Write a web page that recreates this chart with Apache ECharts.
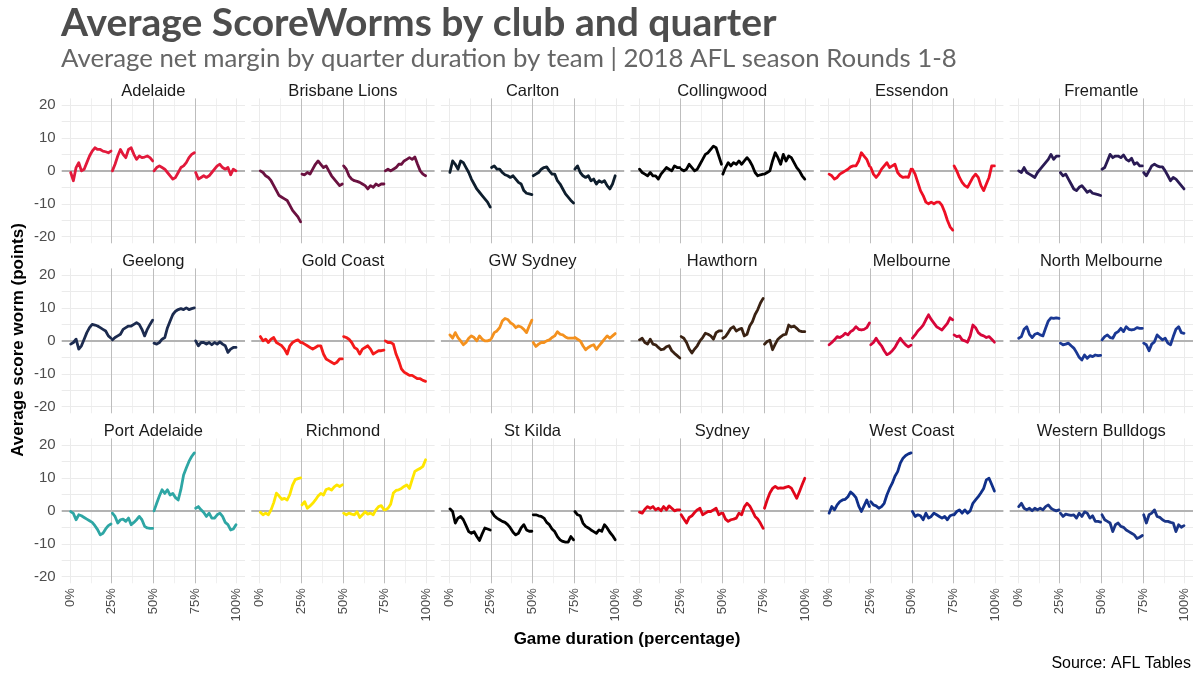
<!DOCTYPE html>
<html><head><meta charset="utf-8">
<script src="https://cdn.jsdelivr.net/npm/echarts@6/dist/echarts.min.js"></script>
<style>html,body{margin:0;padding:0;background:#fff}#c{width:1200px;height:680px}</style>
</head><body><div id="c"></div>
<script>
const teams = ['Adelaide','Brisbane Lions','Carlton','Collingwood','Essendon','Fremantle',
  'Geelong','Gold Coast','GW Sydney','Hawthorn','Melbourne','North Melbourne',
  'Port Adelaide','Richmond','St Kilda','Sydney','West Coast','Western Bulldogs'];
const teamColors = ['#E2193B','#6B1140','#0E1E2D','#000000','#EE0F25','#2A1A54',
  '#1C2B4F','#F41A1A','#F4911E','#3A2213','#D7063A','#1A3894',
  '#2EA6A4','#FFE600','#000000','#E1061A','#10308A','#1A3587'];
const xTickLabels = [0,25,50,75,100];
const yTickLabels = [-20,-10,0,10,20];

// Average net margin per quarter (16 samples spread over each quarter)
const adelaide = [
  [-0.5,-3,1,2.5,0,0.5,2.5,4.5,6,7,6.5,6.5,6,5.8,5.5,6],
  [0,2,4.5,6.5,5,4,6.5,7,5,3.5,4.5,4,4.2,4.5,4,3],
  [0,1,1.5,1,0.5,-0.5,-1.5,-2.5,-2,-0.5,1,1.5,2.5,4,5,5.5],
  [-0.5,-2.5,-2,-1.5,-2,-1.5,-0.5,0.5,1.5,2,1,0.5,1,-1.2,0.5,0]];
const brisbane = [
  [0,-0.5,-1.5,-2,-3,-4.5,-6,-7.5,-8,-8.5,-9,-10.5,-12,-13,-14,-15.5],
  [-1,-1.2,-0.5,-1,0.5,2,3,2,1,1.5,0,-1.5,-2.5,-3.5,-4.5,-4],
  [1.5,0.5,-1.5,-2.5,-3,-3.2,-3.5,-4,-4.5,-5.5,-4.5,-5,-4,-4.5,-4,-4],
  [0,0.5,0,0.5,1,2,2,3,3.5,4,3.5,4.2,2,0,-1,-1.5]];
const carlton = [
  [-0.5,3,2,0.5,3,2.5,1,-0.5,-2.5,-4,-5.5,-6.5,-7.5,-8.5,-9.5,-11],
  [1,1.5,0.5,0.5,-0.5,-1.2,-1.5,-2,-1.5,-2.5,-3.5,-4,-6,-6.8,-7,-7.2],
  [-1.5,-1,-0.5,0.5,1,1.2,0,-1,-1,-3,-4,-5.5,-7,-8,-9,-9.8],
  [0.5,1.5,-0.5,-1.5,-2,-1.5,-3,-2.5,-4,-3,-3.5,-3,-4.5,-5.5,-4,-1.5]];
const collingwood = [
  [0.5,-0.5,-1,-1.5,-0.5,-1.5,-1.5,-2.5,-1,0,1,0.5,0,1.5,1,1],
  [0.5,0,0.5,2,1,0,0.5,2,3.5,5,5.5,6.5,7.5,7,4.5,2],
  [-1,1,2.5,1.5,2.5,2,3,2,3,4,3,1.5,-0.5,-1.5,-1.2,-1],
  [-1,-0.5,0,3,5.5,4,2,5,3,4.5,4,2.5,1,0,-1.5,-2.5]];
const essendon = [
  [-1,-1.5,-2.5,-2,-1,-0.5,0,0.5,1.2,1.5,1.5,3,5.5,4.5,3.5,1.5],
  [1,-1,-2,-1,0.5,1.5,2.5,1,1.5,2,-0.5,-1.5,-2,-1.8,-2,0.5],
  [0.5,-1,-3.5,-6,-7.5,-9.5,-10,-9.5,-10,-9.5,-9.5,-10.5,-12.5,-15,-17,-18],
  [1.5,0,-2,-3.5,-4.5,-5,-3.5,-2,-1,-2,-4.5,-6,-4,-2,1.5,1.5]];
const fremantle = [
  [0,-0.5,1,-0.5,-1,-1.5,-2,-0.5,0.5,1.5,2.5,3.5,5,3.5,4.5,4.5],
  [-0.5,-1.5,-1,-2.5,-4,-5.5,-6,-5,-4.5,-5.5,-6.5,-6,-6.8,-7,-7.2,-7.5],
  [0.5,1,3,5,4,4.5,4.5,4,4.8,3.5,3,3.8,2,2.5,1.5,1.5],
  [-0.5,-1.5,0,1.5,2,1.5,1.2,1.2,0,-1.5,-3,-2,-2.5,-3.5,-4.5,-5.5]];
const geelong = [
  [-1,-0.5,0.5,-2.5,-1.5,0.5,2.5,4,5,4.8,4.5,4,3.5,3,1.5,0.8],
  [0.3,1,1.5,2,3.5,4,4.5,4.5,5,5.5,5,3.5,1.5,3.5,5,6.3],
  [-0.7,-1,-0.5,0.5,1,4,6,8,9,9.5,9.8,9.5,10,9.5,9.8,10],
  [0,-1.5,-0.5,-0.5,-1,-0.5,-1.2,-0.5,-1,-0.3,-1,-1.5,-3.5,-2.5,-2,-2]];
const goldCoast = [
  [1.3,0,0.5,-0.5,0.5,1,-0.5,-1,-1.5,-2.5,-4,-1.5,-0.5,0,0.3,-0.5],
  [-0.5,-1,-1.5,-2,-2.5,-2,-1.5,-1.5,-4,-5.5,-6,-6.5,-7,-6.5,-5.5,-5.5],
  [1.3,1,0.5,-0.5,-2,-2.5,-4,-2.5,-2,-1.5,-2.5,-4,-3.5,-3,-3,-2.8],
  [0,-0.5,-0.5,-1,-4,-6,-8.5,-9.5,-10,-10.5,-10.5,-11,-11.5,-11.5,-12,-12.3]];
const gwSydney = [
  [1.8,0.8,2.5,1,0,-1.2,-0.5,0.8,1.5,1,0,1.5,0.5,0,0,0.3],
  [0.8,2.5,3,4,6,6.8,6.5,5.5,5,4,4.5,4.2,3.5,2.5,4.5,6.3],
  [-0.5,-1.7,-1,-0.5,-0.5,0,0.3,1,1.5,2.8,2,1.8,1.2,0.8,0.8,0.8],
  [1,0.5,0,-1.5,-2.7,-2,-1.5,-1.2,-2.6,-1.5,-0.5,0.5,1.5,0.8,1.5,2.2]];
const hawthorn = [
  [0.3,0.8,-0.5,-1,0.5,-1,-1.2,-2,-2.7,-2.5,-1.8,-1.5,-3,-3.8,-4.5,-5.2],
  [1.3,0.8,-0.5,-2.5,-3.7,-2.5,-1.5,0,1,2.3,2,1.5,0.5,2.5,3,3],
  [0.8,1.3,2.5,3.8,4.3,3,3.5,3.8,1.5,2,4.5,5.8,8,9.5,11.5,12.9],
  [-1,-0.2,0.2,-2.7,-1,0.5,1.2,1.8,2,4.8,4.2,4.5,3.8,3,2.8,2.8]];
const melbourne = [
  [-1.2,-0.5,0.3,1.3,1,1.5,2.3,1.8,2.8,3.3,4.3,3.5,3.3,3.5,4,5.4],
  [-1.2,-0.5,0.8,-0.5,-1.5,-3,-4.2,-3.8,-3,-2,-0.5,0.8,-0.3,-1.2,-1.8,-1.3],
  [0.8,1.8,3,3.8,4.8,6.4,7.9,6.5,5.4,4.3,3.8,3.3,4.3,5.3,7,6.4],
  [1.8,1.3,1.5,0.3,0,-0.4,1.5,4.8,4,2.5,1.8,1.5,1,1.3,0.5,-0.4]];
const northMelbourne = [
  [0.8,1.3,3.5,4.3,2,1,2,2.3,1.8,1.5,3.8,6,7,6.8,7,6.8],
  [-0.7,-1.2,-1,-0.7,-1.5,-2.2,-3.5,-5,-5.8,-4.3,-5.3,-4.5,-4.8,-4.3,-4.5,-4.4],
  [0.3,1.3,1.8,1,0.8,2.3,2.8,3.8,2.8,4.3,3.5,3.3,3.5,4,3.8,3.8],
  [-0.7,-1.2,-3,-1,-0.3,1.8,1,0.3,0.8,-0.7,-1.2,1.3,3.5,4.3,2.5,2.3]];
const portAdelaide = [
  [-0.2,-0.8,-2.7,-1.2,-1.5,-2,-2.5,-3,-3.5,-4.5,-5.7,-7.3,-6.8,-5.5,-4.5,-4],
  [-0.7,-1.7,-3.7,-2.7,-2.5,-3.2,-2.2,-4.2,-3.5,-2.7,-1.7,-2.7,-4.7,-5.2,-5.3,-5.3],
  [0,2.3,4.5,6.4,5.3,6.4,4.8,5.3,4,3.3,6.5,10.9,13,15,16.5,17.6],
  [0.8,1.3,0.3,-0.5,-1.7,-0.7,-2.2,-2.2,-1.2,-0.7,-1.7,-3.5,-4.2,-5.8,-5.5,-4.2]];
const richmond = [
  [-0.4,-1.2,-0.7,-1.2,0.3,2.5,5.4,4.5,3.5,3.8,3.3,5,7.8,9.5,9.8,10],
  [1.8,2.8,0.8,1.5,2.3,3.3,4.5,5.3,4.8,6.5,6.8,6.3,7.3,7.9,7.4,7.9],
  [-0.7,-1.2,-0.7,-1,-1.2,-0.3,-2,-1.2,-0.3,-1,-0.7,-1.2,0.3,1.3,1.6,0.3],
  [0.3,0.8,2,5.4,6.2,6.4,6.8,7.4,7.9,6.8,9.5,12,12.5,12.9,13.5,15.5]];
const stKilda = [
  [0.6,-0.2,-3.7,-2.2,-1.7,-2.7,-4.5,-6.3,-6.8,-6.3,-7.8,-9,-7,-5.2,-5.5,-5.8],
  [-0.2,-1.5,-2.2,-2.7,-3.2,-3.5,-4.2,-5.2,-6.5,-7.3,-6.8,-5.2,-4.2,-5.8,-6.2,-6.2],
  [-1.2,-1.2,-1.5,-1.7,-2.2,-3.5,-4.2,-5.5,-6.3,-7.8,-8.8,-9.3,-9.5,-9.5,-7.8,-8.8],
  [-0.2,-1.2,-1.5,-3.7,-4.7,-5.2,-5.8,-6.3,-6.8,-5.8,-6.2,-4.2,-5.2,-6.5,-7.5,-8.8]];
const sydney = [
  [-0.4,-0.7,0.5,1.3,0.8,1.3,0.3,0.8,0,1.3,0.3,1.5,0.8,0,0.3,0.3],
  [-1.2,-2.5,-3.7,-2,-1.5,-0.5,0.3,0.8,-1.2,-0.7,-0.2,-0.2,0.3,0.8,-1.2,-0.7],
  [-0.7,-2.5,-3.2,-2.7,-2.5,-2.2,-0.7,-1.2,1.2,2.3,1.5,0,-1.7,-2.5,-3.8,-5.3],
  [0.8,3.3,5.4,6.8,7.4,6.8,7,6.9,7.2,7.4,6.9,5.4,3.8,5.8,7.9,9.9]];
const westCoast = [
  [-0.7,1.3,0.3,1.8,2.8,3.3,3.5,4.3,5.7,5,4,1.5,-0.2,1.5,3.3,1.3],
  [2.8,1.8,1.5,0.8,1.3,2.3,4.8,6.8,8.4,10.5,11.9,14.5,16,16.8,17.3,17.6],
  [-0.2,-1.7,-1.2,-1.5,-2.7,-0.7,-2.2,-1.7,-0.7,-1.2,-1.7,-2.2,-1.7,-2.7,-1.5,-1.2],
  [-1.2,-0.2,0.3,-0.7,0.3,-0.7,0,2.3,3.3,4.3,5.5,6.8,9.4,9.9,8,6]];
const westernBulldogs = [
  [1.3,2.3,0.8,0.3,0.8,0,0.8,0.3,0.8,0.3,1.3,1.8,0.8,0.3,0,0.3],
  [-0.7,-1.7,-1,-1.2,-1.4,-1.2,-2.2,-0.7,-1.7,-0.3,-0.7,-2.2,-1.5,-3.2,-3.2,-3.4],
  [-1.2,-2.7,-3.2,-3.7,-6.3,-4.2,-3.7,-4.7,-5,-5.8,-6.3,-6.8,-7.3,-8.4,-8,-7.5],
  [-1.2,-3.7,-1.2,-0.7,0.3,-1.7,-2,-2.7,-3.2,-3.2,-3.5,-3.7,-6.3,-4.2,-5,-4.5]];

const worms = [adelaide, brisbane, carlton, collingwood, essendon, fremantle,
  geelong, goldCoast, gwSydney, hawthorn, melbourne, northMelbourne,
  portAdelaide, richmond, stKilda, sydney, westCoast, westernBulldogs];

// ---- layout ----
const COLS = 6;
const panelLeft0 = 61.7, panelStepX = 189.6, panelW = 183.3;
const panelTop0 = 98.4, panelStepY = 170, panelH = 144.9;
const grids = [], xAxes = [], yAxes = [], series = [], titles = [];

titles.push({text:'Average ScoreWorms by club and quarter', left:61, top:4, padding:0,
  textStyle:{fontFamily:'Lato', fontWeight:'bold', fontSize:39, color:'#4d4d4d'}});
titles.push({text:'Average net margin by quarter duration by team | 2018 AFL season Rounds 1-8', left:61, top:46, padding:0,
  textStyle:{fontFamily:'Lato', fontWeight:'normal', fontSize:25.8, color:'#666666'}});
titles.push({text:'Game duration (percentage)', left:627, top:631, padding:0, textAlign:'center',
  textStyle:{fontFamily:'Liberation Sans', fontWeight:'bold', fontSize:17, color:'#000'}});
titles.push({text:'Source: AFL Tables', right:9, top:656, padding:0,
  textStyle:{fontFamily:'Liberation Sans', fontWeight:'normal', fontSize:16, color:'#000'}});

const gridMarks = [];
[0,100].forEach(v => gridMarks.push({xAxis:v, lineStyle:{color:'#ebebeb', width:1, type:'solid'}}));
[12.5,37.5,62.5,87.5].forEach(v => gridMarks.push({xAxis:v, lineStyle:{color:'#f0f0f0', width:1, type:'solid'}}));
[-20,-15,-10,-5,5,10,15,20].forEach(v => gridMarks.push({yAxis:v, lineStyle:{color:'#ebebeb', width:1, type:'solid'}}));
[25,50,75].forEach(v => gridMarks.push({xAxis:v, lineStyle:{color:'#bdbdbd', width:1, type:'solid'}}));
gridMarks.push({yAxis:0, lineStyle:{color:'#b3b3b3', width:1.8, type:'solid'}});

teams.forEach((team, i) => {
  const r = Math.floor(i / COLS), c = i % COLS;
  const left = panelLeft0 + panelStepX * c, top = panelTop0 + panelStepY * r;
  grids.push({left:left, top:top, width:panelW, height:panelH, containLabel:false});
  xAxes.push({type:'value', gridIndex:i, min:-5, max:105, interval:5,
    axisLine:{show:false}, axisTick:{show:false}, splitLine:{show:false},
    axisLabel:{show: r === 2, rotate:90, margin:5, fontSize:13, color:'#4d4d4d', fontFamily:'Liberation Sans',
      formatter: v => xTickLabels.includes(v) ? v + '%' : ''}});
  yAxes.push({type:'value', gridIndex:i, min:-22, max:22, interval:2,
    axisLine:{show:false}, axisTick:{show:false}, splitLine:{show:false},
    axisLabel:{show: c === 0, margin:6, fontSize:15, color:'#4d4d4d', fontFamily:'Liberation Sans',
      formatter: v => yTickLabels.includes(v) ? String(v) : ''}});
  titles.push({text:team, left:left + panelW / 2, top:top - 15, padding:0, textAlign:'center',
    textStyle:{fontFamily:'Liberation Sans', fontWeight:'normal', fontSize:16.5, color:'#1a1a1a'}});
  series.push({type:'line', xAxisIndex:i, yAxisIndex:i, data:[], z:1, silent:true,
    markLine:{silent:true, symbol:['none','none'], label:{show:false}, animation:false, data:gridMarks}});
  worms[i].forEach((quarter, q) => {
    const n = quarter.length;
    const pts = quarter.map((v, k) => [q * 25 + 0.4 + k * 24.2 / (n - 1), v]);
    series.push({type:'line', xAxisIndex:i, yAxisIndex:i, data:pts, z:5,
      showSymbol:false, symbol:'none', smooth:false,
      lineStyle:{color:teamColors[i], width:2.8, join:'round', cap:'round'}});
  });
});

const chart = echarts.init(document.getElementById('c'), null, {renderer:'canvas'});
chart.setOption({
  animation:false,
  backgroundColor:'#ffffff',
  title:titles,
  grid:grids, xAxis:xAxes, yAxis:yAxes, series:series,
  graphic:[{type:'text', x:18, y:340, rotation:Math.PI/2,
    style:{text:'Average score worm (points)', align:'center', verticalAlign:'middle',
      font:'bold 17px "Liberation Sans"', fill:'#000'}}]
});
</script></body></html>
